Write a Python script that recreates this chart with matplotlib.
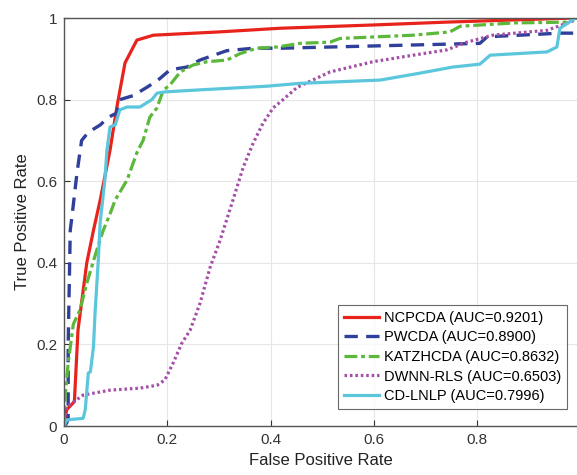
import matplotlib
matplotlib.use("Agg")
import matplotlib.pyplot as plt

plt.rcParams['font.family'] = ['Liberation Sans', 'DejaVu Sans']

# ROC curves (false positive rate, true positive rate)
ncpcda_fpr = [0, 0.005, 0.02, 0.027, 0.044, 0.057, 0.07, 0.089, 0.102, 0.118, 0.141, 0.173, 0.30, 0.418, 0.598, 0.74, 0.985, 1.0]
ncpcda_tpr = [0, 0.04, 0.06, 0.235, 0.40, 0.48, 0.554, 0.676, 0.78, 0.89, 0.946, 0.958, 0.966, 0.975, 0.983, 0.99, 1.0, 1.0]

pwcda_fpr = [0, 0.005, 0.008, 0.008, 0.012, 0.015, 0.025, 0.034, 0.047, 0.07, 0.086, 0.102, 0.108, 0.134, 0.16, 0.182, 0.205, 0.238, 0.263, 0.315, 0.366, 0.418, 0.805, 0.819, 0.96, 1.0]
pwcda_tpr = [0, 0.007, 0.02, 0.2, 0.48, 0.51, 0.62, 0.70, 0.72, 0.738, 0.757, 0.767, 0.80, 0.81, 0.83, 0.848, 0.873, 0.88, 0.897, 0.92, 0.926, 0.926, 0.938, 0.954, 0.963, 0.963]

katz_fpr = [0, 0.002, 0.008, 0.018, 0.031, 0.044, 0.063, 0.076, 0.089, 0.099, 0.122, 0.141, 0.153, 0.166, 0.18, 0.192, 0.205, 0.225, 0.25, 0.277, 0.315, 0.341, 0.373, 0.412, 0.457, 0.515, 0.534, 0.676, 0.747, 0.767, 0.87, 0.974, 0.99]
katz_tpr = [0, 0.07, 0.155, 0.25, 0.285, 0.35, 0.43, 0.48, 0.52, 0.554, 0.603, 0.67, 0.70, 0.757, 0.78, 0.823, 0.836, 0.868, 0.885, 0.893, 0.897, 0.913, 0.926, 0.929, 0.938, 0.941, 0.95, 0.958, 0.966, 0.98, 0.988, 0.99, 1.0]

dwnn_fpr = [0, 0.005, 0.037, 0.089, 0.147, 0.18, 0.195, 0.211, 0.228, 0.244, 0.263, 0.283, 0.302, 0.327, 0.347, 0.366, 0.385, 0.405, 0.424, 0.451, 0.515, 0.598, 0.676, 0.741, 0.78, 0.83, 0.935, 0.99]
dwnn_tpr = [0, 0.047, 0.076, 0.088, 0.093, 0.10, 0.113, 0.154, 0.203, 0.235, 0.30, 0.39, 0.455, 0.554, 0.635, 0.693, 0.742, 0.78, 0.80, 0.83, 0.868, 0.893, 0.909, 0.922, 0.941, 0.958, 0.97, 0.995]

cdlnlp_fpr = [0, 0.005, 0.037, 0.041, 0.047, 0.051, 0.057, 0.06, 0.066, 0.07, 0.079, 0.083, 0.089, 0.099, 0.108, 0.122, 0.147, 0.17, 0.18, 0.195, 0.263, 0.393, 0.457, 0.612, 0.689, 0.753, 0.805, 0.825, 0.935, 0.954, 0.96, 0.99]
cdlnlp_tpr = [0, 0.015, 0.019, 0.04, 0.13, 0.133, 0.195, 0.277, 0.40, 0.50, 0.603, 0.676, 0.733, 0.738, 0.775, 0.782, 0.782, 0.80, 0.816, 0.819, 0.824, 0.833, 0.84, 0.848, 0.865, 0.88, 0.887, 0.909, 0.917, 0.929, 0.975, 1.0]

labels = ['NCPCDA (AUC=0.9201)', 'PWCDA (AUC=0.8900)', 'KATZHCDA (AUC=0.8632)',
          'DWNN-RLS (AUC=0.6503)', 'CD-LNLP (AUC=0.7996)']
xticks = [0, 0.2, 0.4, 0.6, 0.8]
yticks = [0, 0.2, 0.4, 0.6, 0.8, 1]

fig = plt.figure(figsize=(5.77, 4.75), dpi=100)
ax = fig.add_axes([0.111, 0.103, 0.889, 0.859])

ax.plot(ncpcda_fpr, ncpcda_tpr, color='#e8231c', lw=2.3, label=labels[0])
ax.plot(pwcda_fpr, pwcda_tpr, color='#2f3f9a', lw=2.4, ls=(0, (4, 2.5)), label=labels[1])
ax.plot(katz_fpr, katz_tpr, color='#5cb83a', lw=2.3, ls=(0, (4, 1.2, 1.2, 1.2)), label=labels[2])
ax.plot(dwnn_fpr, dwnn_tpr, color='#a44ea8', lw=2.3, ls=(0, (0.8, 0.9)), label=labels[3])
ax.plot(cdlnlp_fpr, cdlnlp_tpr, color='#5bc6dc', lw=2.3, label=labels[4])

ax.set_xlim(0, 0.993)
ax.set_ylim(0, 1)
ax.set_xticks(xticks)
ax.set_xticklabels(['0', '0.2', '0.4', '0.6', '0.8'])
ax.set_yticks(yticks)
ax.set_yticklabels(['0', '0.2', '0.4', '0.6', '0.8', '1'])
ax.grid(True, color='#e6e6e6', lw=0.8)
ax.set_axisbelow(True)
ax.tick_params(direction='in', length=4, labelsize=11, colors='#333333', pad=5)
for s in ['left', 'bottom', 'top']:
    ax.spines[s].set_color('#555555')
    ax.spines[s].set_linewidth(1.0)
ax.spines['right'].set_visible(False)

ax.set_xlabel('False Positive Rate', fontsize=12, color='#222222', labelpad=4)
ax.set_ylabel('True Positive Rate', fontsize=12, color='#222222', labelpad=4)

leg = ax.legend(loc='lower right', bbox_to_anchor=(0.98, 0.042), fontsize=10.5, frameon=True,
                fancybox=False, handlelength=2.4, handletextpad=0.35, borderpad=0.4,
                labelspacing=0.38, borderaxespad=0)
leg.get_frame().set_edgecolor('#444444')
leg.get_frame().set_linewidth(0.8)

fig.savefig('out.png', dpi=100)
